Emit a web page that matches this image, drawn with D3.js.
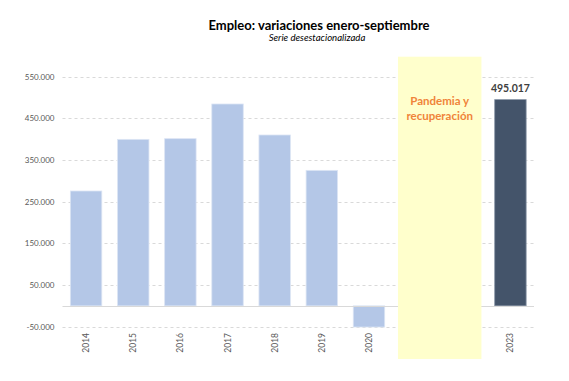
<!DOCTYPE html>
<html>
<head>
<meta charset="utf-8">
<script src="https://cdn.jsdelivr.net/npm/d3@7"></script>
<style>
  html, body { margin: 0; padding: 0; background: #ffffff; }
  svg { display: block; font-family: Lato, "Liberation Sans", sans-serif; }
</style>
</head>
<body>
<svg id="chart" width="569" height="381"></svg>
<script>
const categories = ["2014", "2015", "2016", "2017", "2018", "2019", "2020", "2021", "2022", "2023"];
const values = [275700, 399600, 401300, 484500, 410100, 325200, -50800, null, null, 495017];
const highlightCategories = ["2023"];
const shadedCategories = ["2021", "2022"];
const shadedLabel = ["Pandemia y", "recuperación"];
const yTicks = [-50000, 50000, 150000, 250000, 350000, 450000, 550000];
const title = "Empleo: variaciones enero-septiembre";
const subtitle = "Serie desestacionalizada";

const locale = d3.formatLocale({ decimal: ",", thousands: ".", grouping: [3], currency: ["", " €"], minus: "-" });
const fmt = locale.format(",.0f");

const svg = d3.select("#chart");
const x = d3.scaleBand().domain(categories).range([62.5, 534]).paddingInner(0.333).paddingOuter(0.1665);
const y = d3.scaleLinear().domain([-50000, 550000]).range([326.7, 76.7]);

// gridlines
svg.append("g").selectAll("line").data(yTicks).join("line")
  .attr("x1", 62.5).attr("x2", 534)
  .attr("y1", d => Math.round(y(d)) + 0.5).attr("y2", d => Math.round(y(d)) + 0.5)
  .attr("stroke", "#d9d9d9").attr("stroke-width", 1).attr("stroke-dasharray", "3,3");

// y axis labels
const yAxis = d3.axisLeft(y).tickValues(yTicks).tickFormat(fmt).tickSize(0).tickPadding(8);
const gy = svg.append("g").attr("transform", "translate(62.5,0)").call(yAxis);
gy.select(".domain").remove();
gy.selectAll("text").attr("font-size", 8).attr("fill", "#595959").attr("font-family", "Lato, 'Liberation Sans', sans-serif");

// bars
const barData = categories.map((c, i) => ({ c, v: values[i] })).filter(d => d.v !== null);
svg.append("g").selectAll("rect").data(barData).join("rect")
  .attr("x", d => x(d.c)).attr("width", x.bandwidth())
  .attr("y", d => y(Math.max(0, d.v)))
  .attr("height", d => Math.abs(y(d.v) - y(0)))
  .attr("fill", d => highlightCategories.includes(d.c) ? "#44546a" : "#b4c7e7")
  .attr("stroke", d => highlightCategories.includes(d.c) ? "#8a97a8" : "#dce5f4")
  .attr("stroke-width", 0.8);

// zero line
svg.append("line")
  .attr("x1", 62.5).attr("x2", 534)
  .attr("y1", Math.round(y(0)) + 0.5).attr("y2", Math.round(y(0)) + 0.5)
  .attr("stroke", "#d9d9d9").attr("stroke-width", 1);

// shaded pandemic region (on top of gridlines)
const s0 = x(shadedCategories[0]), s1 = x(shadedCategories[shadedCategories.length - 1]) + x.bandwidth();
const sMid = (s0 + s1) / 2, sW = x.step() * 1.77;
svg.append("rect")
  .attr("x", sMid - sW / 2).attr("width", sW)
  .attr("y", 56.7).attr("height", 359 - 56.7)
  .attr("fill", "#ffffcc");

// data label for highlighted
svg.append("g").selectAll("text").data(barData.filter(d => highlightCategories.includes(d.c))).join("text")
  .attr("x", d => x(d.c) + x.bandwidth() / 2)
  .attr("y", d => y(d.v) - 8)
  .attr("text-anchor", "middle").attr("font-size", 10.5).attr("font-weight", "bold").attr("fill", "#404040")
  .text(d => fmt(d.v));

// category labels (rotated)
svg.append("g").selectAll("text").data(barData).join("text")
  .attr("transform", d => `translate(${x(d.c) + x.bandwidth() / 2},333) rotate(-90)`)
  .attr("text-anchor", "end").attr("dy", "0.35em")
  .attr("font-size", 8.5).attr("fill", "#595959")
  .text(d => d.c);

// shaded label
svg.append("text")
  .attr("x", sMid).attr("y", 105)
  .attr("text-anchor", "middle").attr("font-size", 11.5).attr("font-weight", "bold").attr("fill", "#f0843a")
  .selectAll("tspan").data(shadedLabel).join("tspan")
  .attr("x", sMid).attr("dy", (d, i) => i === 0 ? 0 : 15)
  .text(d => d);

// titles
svg.append("text").attr("x", 319).attr("y", 30)
  .attr("text-anchor", "middle").attr("font-size", 13).attr("font-weight", "bold").attr("fill", "#000")
  .text(title);
svg.append("text").attr("x", 317).attr("y", 41)
  .attr("text-anchor", "middle").attr("font-size", 9.6).attr("font-style", "italic").attr("fill", "#000")
  .text(subtitle);
</script>
</body>
</html>
